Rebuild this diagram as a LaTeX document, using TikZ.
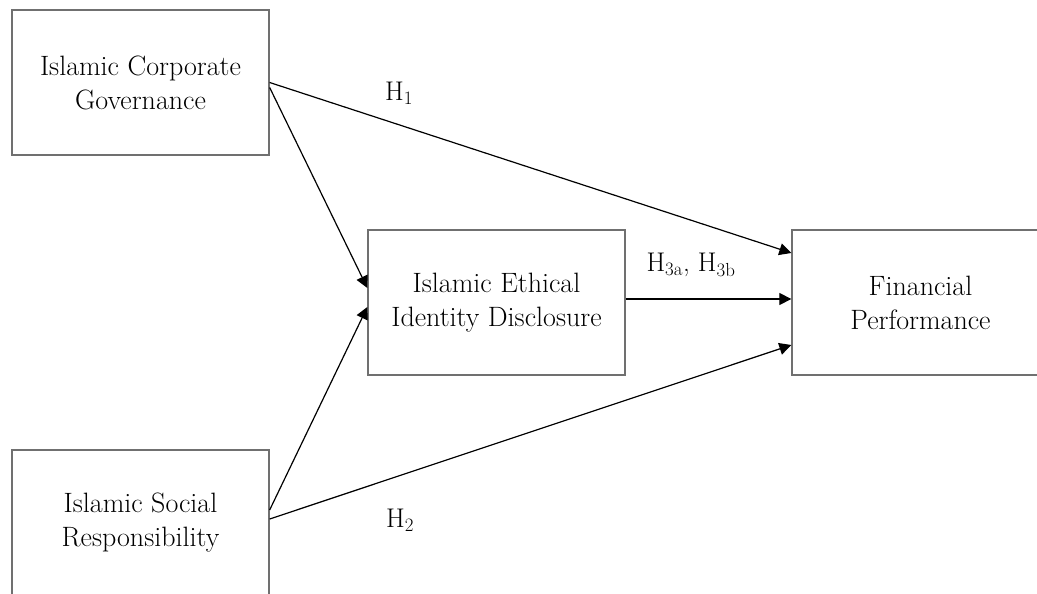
\documentclass[tikz,border=0pt]{standalone}
\usetikzlibrary{arrows.meta}
\usetikzlibrary{positioning}
\definecolor{box-grey}{HTML}{707070}
\tikzset{
  construct/.style={draw=box-grey, line width=1.3pt, minimum width=257pt,
    minimum height=145pt, align=center, inner sep=0pt,
    font=\fontsize{28}{34}\selectfont},
  hyp-path/.style={line width=1.2pt, -{Triangle[length=12pt,width=12pt]}},
  hyp-label/.style={font=\fontsize{27}{30}\selectfont, inner sep=0pt},
}
\begin{document}
\begin{tikzpicture}[x=1pt,y=-1pt]
\useasboundingbox (0,0) rectangle (1037,594);
\node[construct] at (140.5, 82.5) (icg) {Islamic Corporate\\Governance};
\node[construct] at (140.5, 522.5) (isr) {Islamic Social\\Responsibility};
\node[construct] at (496.5, 302.5) (ieid) {Islamic Ethical\\Identity Disclosure};
\node[construct] at (920.5, 302.5) (fp) {Financial\\Performance};
\draw[hyp-path] (icg.east) -- ([yshift=49.5pt]fp.west);
\draw[hyp-path] ([yshift=-5pt]icg.east) -- ([yshift=14.5pt]ieid.west);
\draw[hyp-path] ([yshift=12.5pt]isr.east) -- ([yshift=-4.5pt]ieid.west);
\draw[hyp-path] ([yshift=3.5pt]isr.east) -- ([yshift=-42.5pt]fp.west);
\draw[hyp-path] ([yshift=3.5pt]ieid.east) -- ([yshift=3.5pt]fp.west);
\node[hyp-label] at (399, 93) (h1) {H\textsubscript{1}};
\node[hyp-label] at (400, 520) (h2) {H\textsubscript{2}};
\node[hyp-label] at (691, 265) (h3) {H\textsubscript{3a}, H\textsubscript{3b}};
\end{tikzpicture}
\end{document}
